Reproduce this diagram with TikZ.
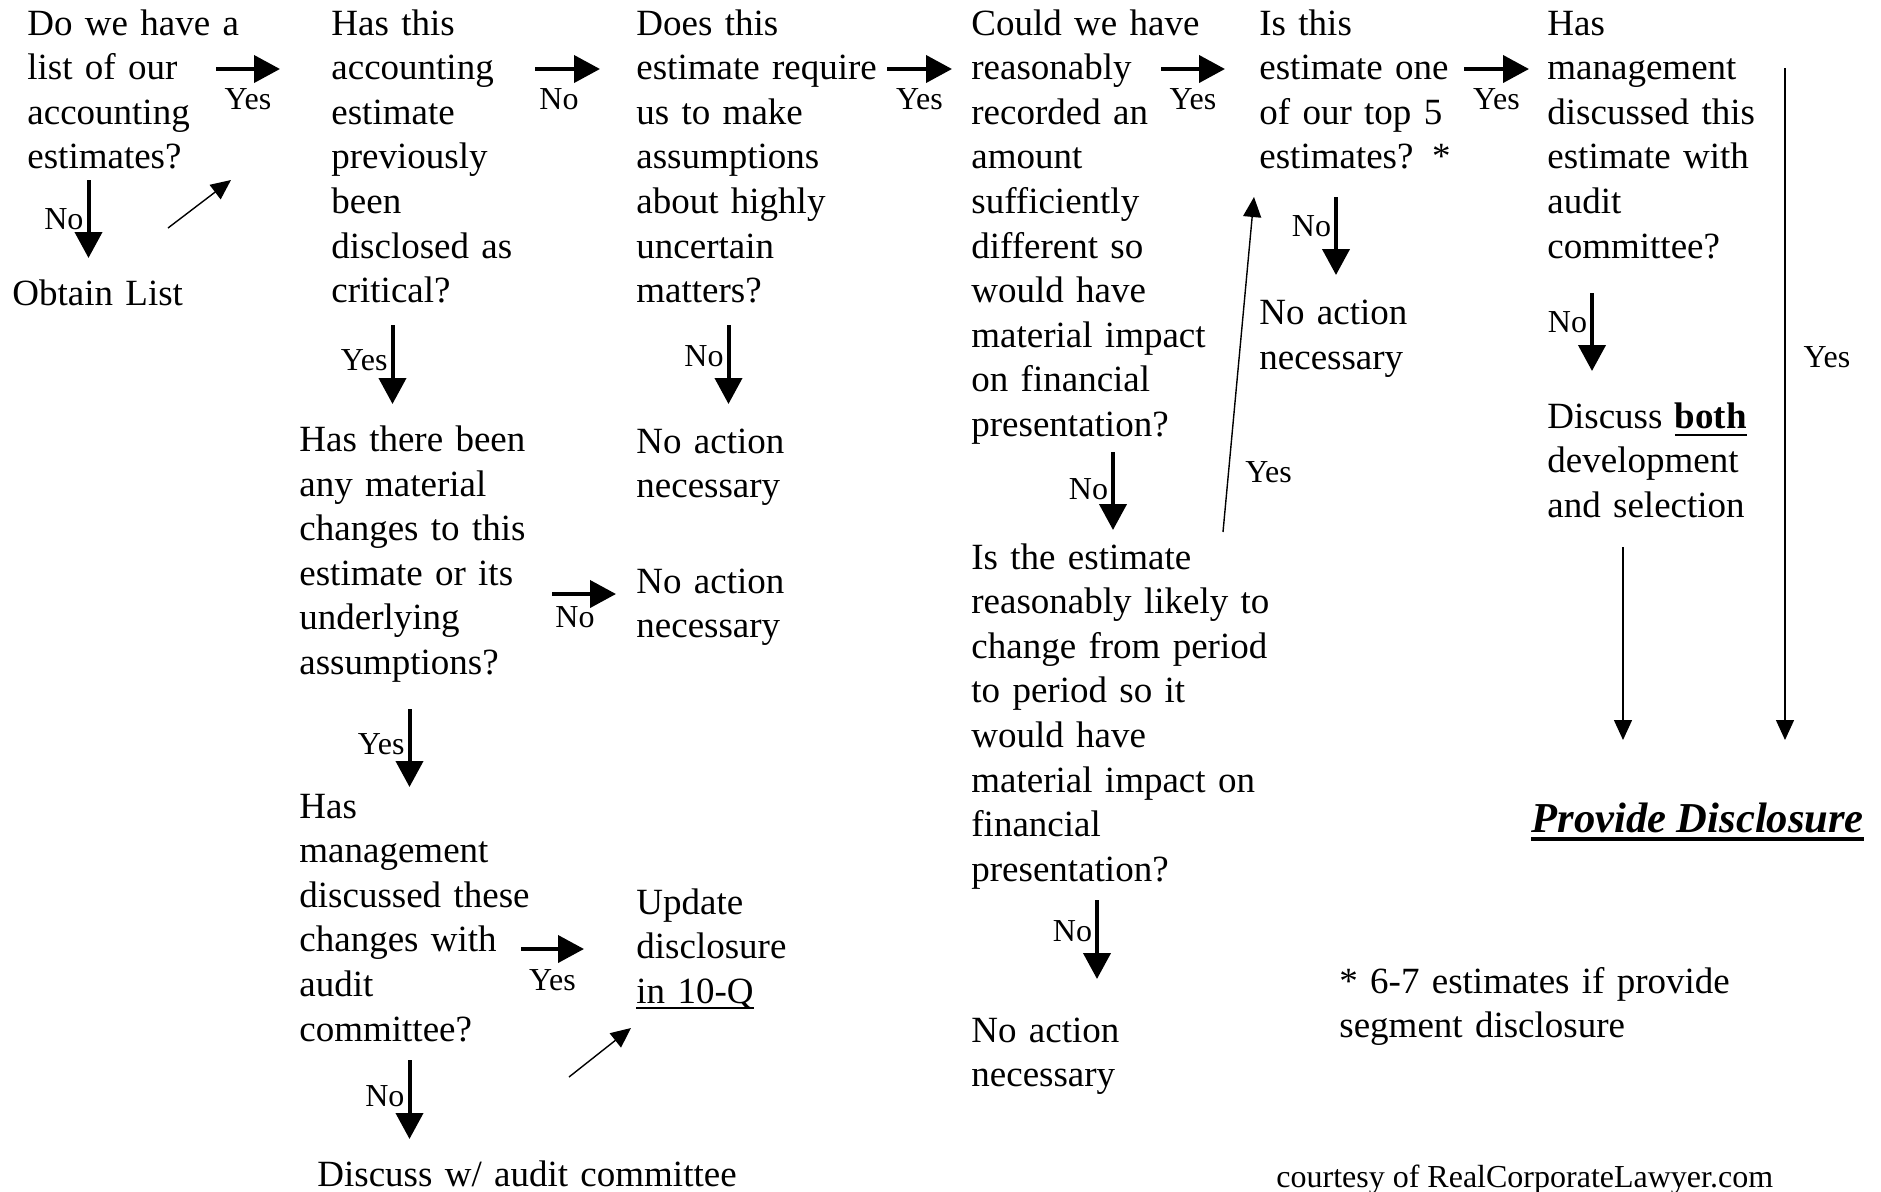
\documentclass[tikz,border=0pt]{standalone}
\usepackage{fontspec}
\setmainfont{Liberation Serif}
\usetikzlibrary{arrows.meta}
\newcommand{\ulbar}[3]{\leavevmode\hbox{\setbox0\hbox{#3}\rlap{\rule[-#1]{\wd0}{#2}}\box0}}

\begin{document}
\begin{tikzpicture}[x=0.5pt, y=-0.5pt,
  txt/.style={anchor=base west, inner sep=0pt, align=left, text width=8cm, font=\fontsize{18.5}{22.3}\selectfont},
  lbl/.style={inner sep=0pt, font=\fontsize{16}{18}\selectfont},
  bigarr/.style={line width=2pt, -{Triangle[length=13pt,width=13.5pt]}},
  thinarr/.style={line width=0.7pt, -{Triangle[length=10pt,width=9pt]}}]
\useasboundingbox (0,0) rectangle (1881,1191);

% questions and outcomes
\node[txt] (haveList) at (27,35) {Do we have a\\ list of our\\ accounting\\ estimates?};
\node[txt] (obtainList) at (12,305.5) {Obtain List};
\node[txt] (prevCritical) at (331,35) {Has this\\ accounting\\ estimate\\ previously\\ been\\ disclosed as\\ critical?};
\node[txt] (uncertain) at (636,35) {Does this\\ estimate require\\ us to make\\ assumptions\\ about highly\\ uncertain\\ matters?};
\node[txt] (recorded) at (971,35) {Could we have\\ reasonably\\ recorded an\\ amount\\ sufficiently\\ different so\\ would have\\ material impact\\ on financial\\ presentation?};
\node[txt] (topFive) at (1259,35) {Is this\\ estimate one\\ of our top 5\\ estimates? *};
\node[txt] (mgmtDiscussed) at (1547,35) {Has\\ management\\ discussed this\\ estimate with\\ audit\\ committee?};
\node[txt] (noAction1) at (636,453) {No action\\ necessary};
\node[txt] (matChanges) at (299,451.5) {Has there been\\ any material\\ changes to this\\ estimate or its\\ underlying\\ assumptions?};
\node[txt] (noAction2) at (636,593) {No action\\ necessary};
\node[txt] (mgmtChanges) at (299,818) {Has\\ management\\ discussed these\\ changes with\\ audit\\ committee?};
\node[txt] (updateQ) at (636,914) {Update\\ disclosure\\ \ulbar{2.8pt}{0.7pt}{in 10-Q}};
\node[txt] (discussAudit) at (317,1186) {Discuss w/ audit committee};
\node[txt] (likelyChange) at (971,569) {Is the estimate\\ reasonably likely to\\ change from period\\ to period so it\\ would have\\ material impact on\\ financial\\ presentation?};
\node[txt] (noAction3) at (971,1042) {No action\\ necessary};
\node[txt] (noAction4) at (1259,324.5) {No action\\ necessary};
\node[txt] (discussBoth) at (1547,428) {Discuss \ulbar{4pt}{1.2pt}{\textbf{both}}\\ development\\ and selection};
\node[anchor=base west, inner sep=0pt, font=\fontsize{21.3}{25}\selectfont] (provide) at (1531,832) {\ulbar{4.3pt}{2pt}{\textbf{\textit{Provide Disclosure}}}};
\node[txt] (footnote) at (1339,993) {* 6-7 estimates if provide\\ segment disclosure};
\node[anchor=base west, inner sep=0pt, font=\fontsize{16}{19}\selectfont] (courtesy) at (1276,1187) {courtesy of RealCorporateLawyer.com};

% arrow ends
\coordinate (s1) at (216,69);      \coordinate (e1) at (280,69);
\coordinate (s2) at (535,69);      \coordinate (e2) at (600,69);
\coordinate (s3) at (887,69);      \coordinate (e3) at (952,69);
\coordinate (s4) at (1161,69);     \coordinate (e4) at (1225,69);
\coordinate (s5) at (1464,69);     \coordinate (e5) at (1529,69);
\coordinate (s6) at (88.5,180);    \coordinate (e6) at (88.5,258);
\coordinate (s7) at (168,228);     \coordinate (e7) at (231,180);
\coordinate (s8) at (392.5,325);   \coordinate (e8) at (392.5,404);
\coordinate (s9) at (728.5,325);   \coordinate (e9) at (728.5,404);
\coordinate (s10) at (552,594);    \coordinate (e10) at (616,594);
\coordinate (s11) at (409.5,709);  \coordinate (e11) at (409.5,787);
\coordinate (s12) at (521,949);    \coordinate (e12) at (584,949);
\coordinate (s13) at (409.5,1060); \coordinate (e13) at (409.5,1139);
\coordinate (s14) at (569,1077);   \coordinate (e14) at (631,1028);
\coordinate (s15) at (1113,452);   \coordinate (e15) at (1113,530);
\coordinate (s16) at (1223,532);   \coordinate (e16) at (1254,197);
\coordinate (s17) at (1336,197);   \coordinate (e17) at (1336,275);
\coordinate (s18) at (1592,293);   \coordinate (e18) at (1592,371);
\coordinate (s19) at (1623,547);   \coordinate (e19) at (1623,740);
\coordinate (s20) at (1785,68);    \coordinate (e20) at (1785,740);
\coordinate (s21) at (1097,900);   \coordinate (e21) at (1097,979);

% connectors
\draw[bigarr] (s1) -- node[midway, below=9pt, lbl] {Yes} (e1);
\draw[bigarr] (s2) -- node[pos=0.37, below=9pt, lbl] {No} (e2);
\draw[bigarr] (s3) -- node[midway, below=9pt, lbl] {Yes} (e3);
\draw[bigarr] (s4) -- node[midway, below=9pt, lbl] {Yes} (e4);
\draw[bigarr] (s5) -- node[midway, below=9pt, lbl] {Yes} (e5);
\draw[bigarr] (s6) -- node[midway, left=1.5pt, lbl] {No} (e6);
\draw[thinarr] (s7) -- (e7);
\draw[bigarr] (s8) -- node[pos=0.45, left=1.5pt, lbl] {Yes} (e8);
\draw[bigarr] (s9) -- node[pos=0.39, left=1.5pt, lbl] {No} (e9);
\draw[bigarr] (s10) -- node[pos=0.36, below=5.5pt, lbl] {No} (e10);
\draw[bigarr] (s11) -- node[pos=0.45, left=1.5pt, lbl] {Yes} (e11);
\draw[bigarr] (s12) -- node[midway, below=9.5pt, lbl] {Yes} (e12);
\draw[bigarr] (s13) -- node[pos=0.46, left=1.5pt, lbl] {No} (e13);
\draw[thinarr] (s14) -- (e14);
\draw[bigarr] (s15) -- node[pos=0.48, left=1.5pt, lbl] {No} (e15);
\draw[thinarr] (s16) -- node[pos=0.18, right=8pt, lbl] {Yes} (e16);
\draw[bigarr] (s17) -- node[pos=0.38, left=1.5pt, lbl] {No} (e17);
\draw[bigarr] (s18) -- node[pos=0.38, left=1.5pt, lbl] {No} (e18);
\draw[thinarr] (s19) -- (e19);
\draw[thinarr] (s20) -- node[pos=0.43, right=9pt, lbl] {Yes} (e20);
\draw[bigarr] (s21) -- node[pos=0.39, left=1.5pt, lbl] {No} (e21);
\end{tikzpicture}
\end{document}
